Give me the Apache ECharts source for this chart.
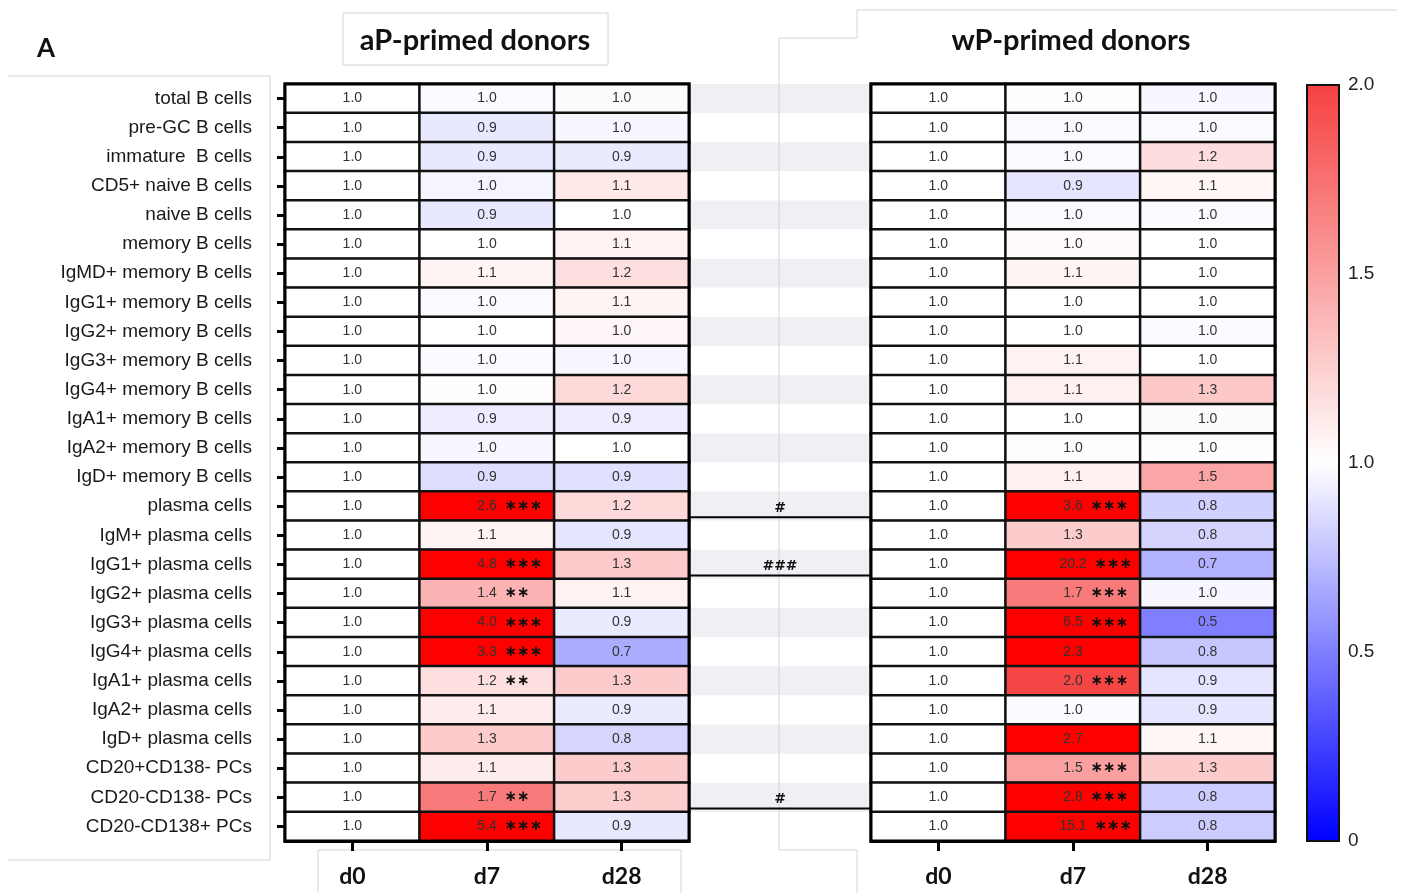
<!DOCTYPE html>
<html>
<head>
<meta charset="utf-8">
<script src="https://cdn.jsdelivr.net/npm/echarts@6/dist/echarts.min.js"></script>
<style>
html,body{margin:0;padding:0;background:#fff;}
#chart{width:1403px;height:893px;}
</style>
</head>
<body>
<div id="chart"></div>
<script>
// ---------------- data ----------------
const rows = ['total B cells','pre-GC B cells','immature  B cells','CD5+ naive B cells','naive B cells','memory B cells',
  'IgMD+ memory B cells','IgG1+ memory B cells','IgG2+ memory B cells','IgG3+ memory B cells','IgG4+ memory B cells',
  'IgA1+ memory B cells','IgA2+ memory B cells','IgD+ memory B cells','plasma cells','IgM+ plasma cells',
  'IgG1+ plasma cells','IgG2+ plasma cells','IgG3+ plasma cells','IgG4+ plasma cells','IgA1+ plasma cells',
  'IgA2+ plasma cells','IgD+ plasma cells','CD20+CD138- PCs','CD20-CD138- PCs','CD20-CD138+ PCs'];
const days = ['d0','d7','d28'];

const apD0  = [1,1,1,1,1,1,1,1,1,1,1,1,1,1,1,1,1,1,1,1,1,1,1,1,1,1];
const apD7  = [0.98,0.91,0.91,0.96,0.91,1.0,1.06,0.98,1.0,0.98,1.01,0.93,0.97,0.87,2.6,1.06,4.8,1.4,4.0,3.3,1.17,1.1,1.27,1.1,1.7,5.4];
const apD28 = [0.99,0.97,0.92,1.12,1.0,1.07,1.17,1.06,1.04,0.97,1.2,0.93,1.0,0.88,1.2,0.9,1.28,1.07,0.92,0.68,1.27,0.92,0.84,1.27,1.26,0.91];
const wpD0  = [1,1,1,1,1,1,1,1,1,1,1,1,1,1,1,1,1,1,1,1,1,1,1,1,1,1];
const wpD7  = [1.01,0.98,0.98,0.9,0.98,1.02,1.06,1.0,1.0,1.07,1.08,1.0,1.01,1.08,3.6,1.27,20.2,1.7,6.5,2.3,1.98,0.98,2.7,1.5,2.8,15.1];
const wpD28 = [0.97,0.98,1.18,1.05,0.98,1.0,1.0,1.0,0.98,1.0,1.29,0.99,1.01,1.47,0.82,0.83,0.7,0.97,0.5,0.78,0.9,0.9,1.05,1.27,0.8,0.8];

const apD7Sig = ['','','','','','','','','','','','','','','***','','***','**','***','***','**','','','','**','***'];
const wpD7Sig = ['','','','','','','','','','','','','','','***','','***','***','***','','***','','','***','***','***'];

const groupDiffRows  = ['plasma cells','IgG1+ plasma cells','CD20-CD138- PCs'];
const groupDiffMarks = ['#','###','#'];

const scaleTicks = [0, 0.5, 1.0, 1.5, 2.0];

// ---------------- build ----------------
function buildHeat(cols){
  const out = [];
  rows.forEach((r, ri) => cols.forEach((arr, ci) => out.push([ci, ri, arr[ri]])));
  return out;
}
const apData = buildHeat([apD0, apD7, apD28]);
const wpData = buildHeat([wpD0, wpD7, wpD28]);
const diffData = groupDiffRows.map((r, i) => [0.5, rows.indexOf(r), i]);

function labelFmt(sig){
  return function(p){
    const v = p.data[2].toFixed(1);
    const s = p.data[0] === 1 ? sig[p.data[1]] : '';
    if (!s) return '{v|' + v + '}';
    const st = s.replace(/\*/g, '\u2217');
    return '{p|' + st + '}  {v|' + v + '}  {s|' + st + '}';
  };
}
const richStyle = {
  v: {fontSize: 14, fontFamily: 'Liberation Sans', color: '#333'},
  s: {fontSize: 15, fontFamily: 'DejaVu Sans', fontWeight: 'bold', color: '#111'},
  p: {fontSize: 15, fontFamily: 'DejaVu Sans', fontWeight: 'bold', color: 'rgba(0,0,0,0)'}
};

const G = {top: 84, height: 757};
const catYAxis = (gi, showLabel) => ({
  type: 'category', gridIndex: gi, data: rows, inverse: true,
  axisLine: {show: true, lineStyle: {color: '#000', width: 3}},
  axisTick: {show: showLabel, alignWithLabel: true, length: 8, lineStyle: {color: '#000', width: 3}},
  axisLabel: {show: showLabel, fontSize: 19, fontFamily: 'Liberation Sans', color: '#1a1a1a', margin: 33}
});
const dayXAxis = (gi) => ({
  type: 'category', gridIndex: gi, data: days, position: 'bottom',
  axisLine: {show: true, lineStyle: {color: '#000', width: 3}},
  axisTick: {show: true, alignWithLabel: true, length: 10, lineStyle: {color: '#000', width: 3}},
  axisLabel: {fontSize: 23, fontFamily: 'Lato', fontWeight: 'bold', color: '#111', margin: 24}
});

const heatSeries = (gi, data, sig) => ({
  type: 'heatmap', xAxisIndex: gi, yAxisIndex: gi, data: data,
  itemStyle: {borderColor: '#111', borderWidth: 2.5},
  label: {show: true, fontSize: 14, formatter: labelFmt(sig), rich: richStyle},
  emphasis: {disabled: true}
});

const gray = '#d4d4d4';
const option = {
  backgroundColor: '#fff',
  animation: false,
  grid: [
    {left: 285, top: G.top, width: 404, height: G.height, show: true, borderColor: '#000', borderWidth: 3, backgroundColor: 'transparent', z: 3},
    {left: 690, top: G.top, width: 180, height: G.height},
    {left: 871, top: G.top, width: 404, height: G.height, show: true, borderColor: '#000', borderWidth: 3, backgroundColor: 'transparent', z: 3},
    {left: 1307, top: 85, width: 32, height: 756, show: true, borderColor: '#111', borderWidth: 2, backgroundColor: 'transparent', z: 10}
  ],
  xAxis: [
    dayXAxis(0),
    {type: 'value', gridIndex: 1, min: 0, max: 1, show: false},
    dayXAxis(2),
    {type: 'value', gridIndex: 3, min: 0, max: 1, show: false}
  ],
  yAxis: [
    catYAxis(0, true),
    {type: 'category', gridIndex: 1, data: rows, inverse: true, axisLine: {show: false}, axisTick: {show: false},
     axisLabel: {show: false}, splitArea: {show: true, areaStyle: {color: ['#eef0f3', '#ffffff']}}},
    catYAxis(2, false),
    {type: 'value', gridIndex: 3, min: 0, max: 2, interval: 0.5, position: 'right',
     axisLine: {show: false}, splitLine: {show: false},
     axisTick: {show: true, inside: false, length: 5, lineStyle: {color: '#111', width: 2}},
     axisLabel: {fontSize: 19, fontFamily: 'Liberation Sans', color: '#222', margin: 9,
       formatter: v => scaleTicks.indexOf(v) < 0 ? '' : (v === 0 ? '0' : v.toFixed(1))}}
  ],
  visualMap: {
    type: 'continuous', seriesIndex: [0, 1], dimension: 2,
    min: 0, max: 2.0001, range: [0, 2], calculable: false, realtime: false,
    orient: 'vertical', left: 1307, top: 85, itemWidth: 32, itemHeight: 756, padding: 0,
    text: null, showLabel: false, hoverLink: false,
    inRange: {color: ['#0000ff', '#ffffff', '#f54141']},
    outOfRange: {color: '#ff0000'}
  },
  series: [
    heatSeries(0, apData, apD7Sig),
    heatSeries(2, wpData, wpD7Sig),
    {
      type: 'custom', xAxisIndex: 1, yAxisIndex: 1, data: diffData, silent: true,
      renderItem: function(params, api){
        const cs = params.coordSys;
        const c = api.coord([0.5, api.value(1)]);
        const band = api.size([0, 1])[1];
        const y = c[1] + band * 0.38;
        const mark = groupDiffMarks[api.value(2)];
        return {type: 'group', children: [
          {type: 'line', shape: {x1: cs.x, y1: y, x2: cs.x + cs.width, y2: y}, style: {stroke: '#000', lineWidth: 2}},
          {type: 'text', style: {text: mark, x: c[0], y: y - 2, textAlign: 'center', textVerticalAlign: 'bottom',
            font: 'bold 14px "DejaVu Sans"', fill: '#111'}}
        ]};
      }
    }
  ],
  graphic: [
    {type: 'polyline', shape: {points: [[8,76],[270,76],[270,860],[8,860]]}, style: {stroke: gray, fill: null, lineWidth: 1}, z: -1},
    {type: 'rect', shape: {x: 343, y: 13, width: 265, height: 52}, style: {stroke: gray, fill: null, lineWidth: 1}, z: -1},
    {type: 'polyline', shape: {points: [[318,893],[318,850],[681,850],[681,893]]}, style: {stroke: gray, fill: null, lineWidth: 1}, z: -1},
    {type: 'polyline', shape: {points: [[779,850],[779,38],[857,38],[857,10],[1397,10]]}, style: {stroke: gray, fill: null, lineWidth: 1}, z: 1},
    {type: 'polyline', shape: {points: [[779,850],[857,850],[857,893]]}, style: {stroke: gray, fill: null, lineWidth: 1}, z: -1},
    {type: 'text', left: 37, top: 36, style: {text: 'A', font: 'bold 26px Lato', fill: '#111'}},
    {type: 'text', x: 475, y: 41, style: {text: 'aP-primed donors', font: 'bold 29px Lato', fill: '#111', textAlign: 'center', textVerticalAlign: 'middle'}},
    {type: 'text', x: 1071, y: 41, style: {text: 'wP-primed donors', font: 'bold 29px Lato', fill: '#111', textAlign: 'center', textVerticalAlign: 'middle'}}
  ]
};

const chart = echarts.init(document.getElementById('chart'), null, {renderer: 'canvas'});
chart.setOption(option);
</script>
</body>
</html>
